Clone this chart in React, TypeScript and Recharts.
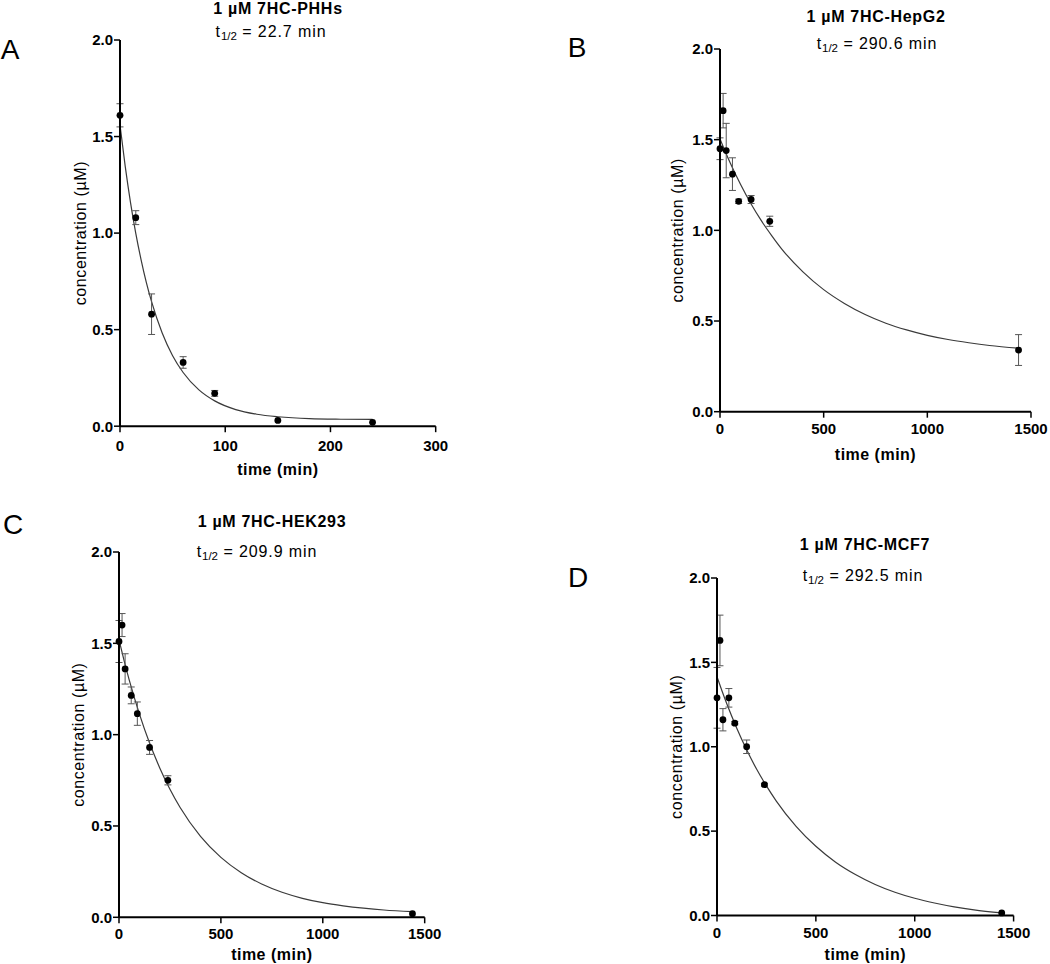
import React from 'react';
import { ComposedChart, Line, Scatter, ErrorBar, XAxis, YAxis } from 'recharts';

const FONT = '"Liberation Sans", Arial, Helvetica, sans-serif';

// tick labels
const concTicks = [0, 0.5, 1.0, 1.5, 2.0];
const shortTimeTicks = [0, 100, 200, 300];
const longTimeTicks = [0, 500, 1000, 1500];

// sampling times (min)
const sampleTimes = [0, 15, 30, 60, 90, 150, 240, 1440];

// A: PHHs (no 24 h sample)
const phhConc = [1.61, 1.08, 0.58, 0.33, 0.17, 0.03, 0.02];
const phhSem = [0.06, 0.036, 0.105, 0.03, 0.015, 0, 0];
const phhFitTimes = [0, 5, 10, 15, 20, 25, 30, 40, 50, 60, 75, 90, 110, 130, 150, 180, 210, 240];
const phhFitConc = [1.56, 1.344, 1.158, 0.999, 0.863, 0.745, 0.645, 0.484, 0.365, 0.278, 0.188, 0.131, 0.086, 0.062, 0.049, 0.039, 0.036, 0.035];

// B: HepG2
const hepg2Conc = [1.45, 1.66, 1.44, 1.31, 1.16, 1.17, 1.05, 0.34];
const hepg2Sem = [0.06, 0.095, 0.15, 0.09, 0.012, 0.022, 0.028, 0.085];

// C: HEK293
const hek293Conc = [1.51, 1.6, 1.36, 1.215, 1.115, 0.93, 0.75, 0.02];
const hek293Sem = [0.115, 0.063, 0.083, 0.046, 0.064, 0.038, 0.025, 0];

// D: MCF7
const mcf7Conc = [1.29, 1.63, 1.16, 1.29, 1.14, 1.0, 0.775, 0.015];
const mcf7Sem = [0.18, 0.15, 0.066, 0.055, 0.01, 0.04, 0.008, 0];

// fitted curves for the 24 h experiments
const longFitTimes = [0, 25, 50, 100, 150, 200, 250, 300, 400, 500, 600, 700, 800, 900, 1000, 1100, 1200, 1300, 1440];
const hepg2FitConc = [1.504, 1.435, 1.37, 1.251, 1.145, 1.052, 0.97, 0.894, 0.771, 0.673, 0.597, 0.536, 0.488, 0.451, 0.421, 0.398, 0.38, 0.365, 0.35];
const hek293FitConc = [1.519, 1.405, 1.3, 1.114, 0.954, 0.818, 0.701, 0.601, 0.443, 0.328, 0.244, 0.182, 0.137, 0.104, 0.08, 0.063, 0.05, 0.04, 0.031];
const mcf7FitConc = [1.415, 1.332, 1.253, 1.11, 0.982, 0.868, 0.768, 0.678, 0.528, 0.41, 0.316, 0.243, 0.184, 0.138, 0.102, 0.074, 0.051, 0.033, 0.015];

const points = (conc: number[], sem: number[]) =>
  conc.map((c, i) => ({ t: sampleTimes[i], c, err: sem[i] }));
const curve = (times: number[], conc: number[]) => times.map((t, i) => ({ t, c: conc[i] }));

interface PanelProps {
  left: number;
  top: number;
  right: number;
  bottom: number;
  xMax: number;
  xTicks: number[];
  data: { t: number; c: number; err: number }[];
  fit: { t: number; c: number }[];
  yLabelOffset: number;
  xLabelBelow: number;
  xTickMargin: number;
}

const Dot = (props: any) => <circle cx={props.cx} cy={props.cy} r={3.4} fill="#000" />;

function Panel(p: PanelProps) {
  const yAxisW = 70;
  const xAxisH = 55;
  const m = { top: 10, right: 20, left: 0, bottom: 0 };
  const w = p.right - p.left + yAxisW + m.right;
  const h = p.bottom - p.top + m.top + xAxisH;
  return (
    <div style={{ position: 'absolute', left: p.left - yAxisW, top: p.top - m.top }}>
      <ComposedChart width={w} height={h} margin={m}>
        <XAxis
          type="number"
          dataKey="t"
          domain={[0, p.xMax]}
          ticks={p.xTicks}
          height={xAxisH}
          axisLine={{ stroke: '#000', strokeWidth: 2 }}
          tickLine={{ stroke: '#000', strokeWidth: 1.5 }}
          tickSize={6}
          tickMargin={p.xTickMargin}
          tick={{ fontSize: 15, fontWeight: 700, fill: '#000', fontFamily: FONT }}
          label={{
            value: 'time (min)',
            position: 'insideBottom',
            offset: 50 - p.xLabelBelow,
            style: { fontSize: 16, fontWeight: 700, fill: '#000', fontFamily: FONT, letterSpacing: 0.5 },
          }}
        />
        <YAxis
          type="number"
          domain={[0, 2]}
          ticks={concTicks}
          width={yAxisW}
          tickFormatter={(v: number) => v.toFixed(1)}
          axisLine={{ stroke: '#000', strokeWidth: 2 }}
          tickLine={{ stroke: '#000', strokeWidth: 1.5 }}
          tickSize={6}
          tickMargin={1}
          tick={{ fontSize: 15, fontWeight: 700, fill: '#000', fontFamily: FONT }}
          label={{
            value: 'concentration (µM)',
            angle: -90,
            position: 'insideLeft',
            offset: p.yLabelOffset,
            style: { textAnchor: 'middle', fontSize: 16, fill: '#000', fontFamily: FONT, letterSpacing: 0.6 },
          }}
        />
        <Line
          data={p.fit}
          dataKey="c"
          type="monotone"
          stroke="#3a3a3a"
          strokeWidth={1.2}
          dot={false}
          activeDot={false}
          isAnimationActive={false}
        />
        <Scatter data={p.data} dataKey="c" shape={Dot} isAnimationActive={false}>
          <ErrorBar dataKey="err" direction="y" width={3.5} stroke="#555" strokeWidth={1} />
        </Scatter>
      </ComposedChart>
    </div>
  );
}

const textBase: React.CSSProperties = {
  position: 'absolute',
  transform: 'translate(-50%, -50%)',
  whiteSpace: 'nowrap',
  fontFamily: FONT,
  color: '#000',
  lineHeight: 1,
};

function Heading({ x, y, children }: { x: number; y: number; children: React.ReactNode }) {
  return <div style={{ ...textBase, left: x, top: y, fontSize: 16, fontWeight: 700, letterSpacing: 0.7 }}>{children}</div>;
}

function HalfLife({ x, y, value }: { x: number; y: number; value: string }) {
  return (
    <div style={{ ...textBase, left: x, top: y, fontSize: 16, letterSpacing: 0.9 }}>
      t<sub style={{ fontSize: '0.72em', verticalAlign: '-0.3em', letterSpacing: 0 }}>1/2</sub> = {value} min
    </div>
  );
}

function Letter({ x, y, children }: { x: number; y: number; children: React.ReactNode }) {
  return <div style={{ ...textBase, left: x, top: y, fontSize: 28, fontWeight: 400 }}>{children}</div>;
}

export default function App() {
  return (
    <div style={{ position: 'absolute', left: 0, top: 0, width: 1050, height: 964, background: '#fff', overflow: 'hidden' }}>
      <Letter x={10} y={50}>A</Letter>
      <Heading x={278} y={9}>1 µM 7HC-PHHs</Heading>
      <HalfLife x={271} y={33} value="22.7" />
      <Panel
        left={120}
        top={39.5}
        right={435.7}
        bottom={425.7}
        xMax={300}
        xTicks={shortTimeTicks}
        data={points(phhConc, phhSem)}
        fit={curve(phhFitTimes, phhFitConc)}
        yLabelOffset={30}
        xLabelBelow={44}
        xTickMargin={8}
      />

      <Letter x={577} y={48}>B</Letter>
      <Heading x={876} y={17}>1 µM 7HC-HepG2</Heading>
      <HalfLife x={877} y={45} value="290.6" />
      <Panel
        left={720}
        top={49}
        right={1031}
        bottom={411.7}
        xMax={1500}
        xTicks={longTimeTicks}
        data={points(hepg2Conc, hepg2Sem)}
        fit={curve(longFitTimes, hepg2FitConc)}
        yLabelOffset={27}
        xLabelBelow={43}
        xTickMargin={6}
      />

      <Letter x={13} y={525}>C</Letter>
      <Heading x={272} y={522}>1 µM 7HC-HEK293</Heading>
      <HalfLife x={257} y={553} value="209.9" />
      <Panel
        left={119.3}
        top={552}
        right={425}
        bottom={917.3}
        xMax={1500}
        xTicks={longTimeTicks}
        data={points(hek293Conc, hek293Sem)}
        fit={curve(longFitTimes, hek293FitConc)}
        yLabelOffset={29}
        xLabelBelow={38}
        xTickMargin={5}
      />

      <Letter x={578} y={578}>D</Letter>
      <Heading x={865} y={545}>1 µM 7HC-MCF7</Heading>
      <HalfLife x={863} y={577} value="292.5" />
      <Panel
        left={716.7}
        top={577.5}
        right={1013.3}
        bottom={915}
        xMax={1500}
        xTicks={longTimeTicks}
        data={points(mcf7Conc, mcf7Sem)}
        fit={curve(longFitTimes, mcf7FitConc)}
        yLabelOffset={29}
        xLabelBelow={40}
        xTickMargin={6}
      />
    </div>
  );
}
